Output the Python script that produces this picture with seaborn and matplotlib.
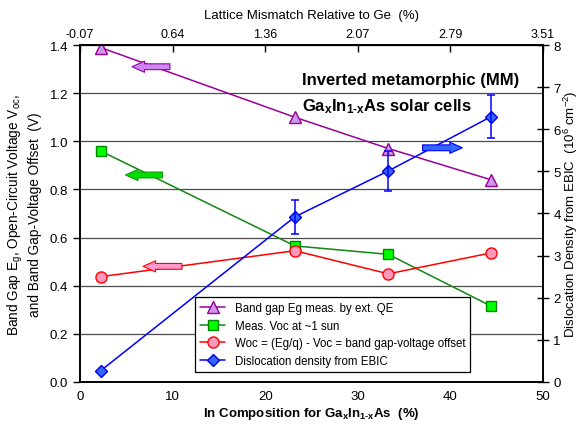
import numpy as np
import pandas as pd
import seaborn as sns
import matplotlib.pyplot as plt

sns.set_style("white")
plt.rcParams['font.family'] = ['Liberation Sans', 'DejaVu Sans']
plt.rcParams['mathtext.fontset'] = 'custom'
plt.rcParams['mathtext.rm'] = 'Liberation Sans'
plt.rcParams['mathtext.bf'] = 'Liberation Sans:bold'
for key in ['text.color', 'axes.labelcolor', 'xtick.color', 'ytick.color']:
    plt.rcParams[key] = 'black'

# data
in_comp = [2.2, 23.2, 33.3, 44.4]
band_gap = [1.39, 1.10, 0.97, 0.84]
voc = [0.96, 0.565, 0.53, 0.315]
woc = [0.437, 0.545, 0.449, 0.536]
disl = [0.26, 3.92, 5.01, 6.30]
disl_err = [0.0, 0.41, 0.48, 0.51]

x_ticks = [0, 10, 20, 30, 40, 50]
mismatch_labels = ['-0.07', '0.64', '1.36', '2.07', '2.79', '3.51']

labels = ['Band gap Eg meas. by ext. QE',
          'Meas. Voc at ~1 sun',
          'Woc = (Eg/q) - Voc = band gap-voltage offset',
          'Dislocation density from EBIC']

gainas = 'Ga$\\mathregular{_x}$In$\\mathregular{_{1\u2010x}}$As'

fig = plt.figure(figsize=(5.85, 4.39), dpi=100)
ax = fig.add_axes([0.137, 0.128, 0.791, 0.767])
ax2 = ax.twinx()

ax.yaxis.grid(True, color='0.3', lw=0.9)
ax.set_axisbelow(True)

sns.lineplot(x=in_comp, y=band_gap, ax=ax, color='#990099', lw=1.1, marker='^',
             markersize=9, markerfacecolor='#CC99E6', markeredgecolor='#990099',
             markeredgewidth=1, label=labels[0], legend=False)
sns.lineplot(x=in_comp, y=voc, ax=ax, color='#118811', lw=1.1, marker='s',
             markersize=7, markerfacecolor='#00FF00', markeredgecolor='#008800',
             markeredgewidth=1, label=labels[1], legend=False)
sns.lineplot(x=in_comp, y=woc, ax=ax, color='#FF0000', lw=1.1, marker='o',
             markersize=8, markerfacecolor='#FF99BB', markeredgecolor='#FF0000',
             markeredgewidth=1, label=labels[2], legend=False)
sns.lineplot(x=in_comp, y=disl, ax=ax2, color='#0000FF', lw=1.1, marker='D',
             markersize=6.5, markerfacecolor='#3366FF', markeredgecolor='#0000DD',
             markeredgewidth=1, label=labels[3], legend=False)
ax2.errorbar(in_comp[1:], disl[1:], yerr=disl_err[1:], fmt='none',
             ecolor='#0000FF', elinewidth=1.1, capsize=3, capthick=1.1)

# block arrows pointing at the relevant axis
def block_arrow(axis, tail, tip, fc, ec):
    axis.annotate('', xy=tip, xytext=tail,
                  arrowprops=dict(arrowstyle='simple,head_length=0.9,head_width=0.8,tail_width=0.42',
                                  fc=fc, ec=ec, lw=0.8, shrinkA=0, shrinkB=0,
                                  mutation_scale=10))

block_arrow(ax, (9.7, 1.31), (5.6, 1.31), '#CC88EE', '#9900AA')
block_arrow(ax, (8.9, 0.86), (4.9, 0.86), '#00DD00', '#119911')
block_arrow(ax, (11.0, 0.48), (6.8, 0.48), '#FF99CC', '#FF0000')
block_arrow(ax2, (37.0, 5.56), (41.3, 5.56), '#3366FF', '#0000FF')

ax.set_xlim(0, 50)
ax.set_ylim(0, 1.4)
ax2.set_ylim(0, 8)
ax.set_xticks(x_ticks)
ax.set_yticks(np.arange(0, 1.41, 0.2))
ax.set_yticklabels(['%.1f' % v for v in np.arange(0, 1.41, 0.2)])
ax2.set_yticks(range(0, 9))

top = ax.secondary_xaxis('top')
top.set_xticks(x_ticks, mismatch_labels)
top.tick_params(direction='in', length=5, width=1, labelsize=9, pad=4)
top.set_xlabel('Lattice Mismatch Relative to Ge  (%)', fontsize=9.5, labelpad=7)

ax.tick_params(axis='x', direction='in', length=5, width=1, labelsize=9.5, pad=6)
ax.tick_params(axis='y', direction='out', length=5, width=1, labelsize=9.5)
ax2.tick_params(axis='y', direction='inout', length=8, width=1, labelsize=9.5)

for a in (ax, ax2):
    for s in a.spines.values():
        s.set_color('black')
        s.set_linewidth(1.2)

ax.set_xlabel('In Composition for ' + gainas + '  (%)',
              fontsize=9.5, fontweight='bold', labelpad=2)
ax.set_ylabel('Band Gap E$\\mathregular{_g}$, Open-Circuit Voltage V$\\mathregular{_{oc}}$,\n'
              'and Band Gap-Voltage Offset  (V)', fontsize=9.8, labelpad=6)
ax2.set_ylabel('Dislocation Density from EBIC  (10$\\mathregular{^6}$ cm$\\mathregular{^{-2}}$)',
               fontsize=9.5, labelpad=1)

ax.text(24.0, 1.257, 'Inverted metamorphic (MM)',
        fontsize=12, fontweight='bold', va='center', ha='left')
ax.text(24.0, 1.147, gainas + ' solar cells',
        fontsize=12, fontweight='bold', va='center', ha='left')

h1, l1 = ax.get_legend_handles_labels()
h2, l2 = ax2.get_legend_handles_labels()
leg = ax2.legend(h1 + h2, l1 + l2, loc='lower left', bbox_to_anchor=(0.248, 0.028),
                 fontsize=8.3, frameon=True, fancybox=False, framealpha=1,
                 edgecolor='black', borderpad=0.45, labelspacing=0.5,
                 handlelength=2.2, borderaxespad=0)
leg.get_frame().set_linewidth(0.9)

fig.savefig('out.png', dpi=100)
